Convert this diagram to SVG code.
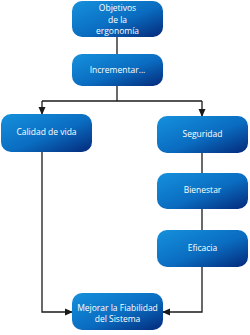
<svg xmlns="http://www.w3.org/2000/svg" width="250" height="335" viewBox="0 0 250 335">
<style>
.box{fill:url(#g)}
.t{font-family:"Open Sans","Liberation Sans",sans-serif;font-size:8.5px;fill:#fff;text-anchor:middle}
.c{fill:none;stroke:#1a1a1a;stroke-width:1.3}
</style>
<defs>
<linearGradient id="g" x1="0" y1="0" x2="1" y2="1">
<stop offset="0" stop-color="#1591dc"/>
<stop offset="0.55" stop-color="#0a6cc0"/>
<stop offset="1" stop-color="#04297a"/>
</linearGradient>
<marker id="a" markerWidth="8" markerHeight="8" refX="7" refY="4" orient="auto" markerUnits="userSpaceOnUse">
<path d="M0,0.5 L8,4 L0,7.5 Z" fill="#1a1a1a"/>
</marker>
</defs>
<g id="connectors">
<path class="c" d="M117,37 V54"/>
<path class="c" d="M117,86 V101"/>
<path class="c" d="M42,101 H202"/>
<path class="c" d="M42,101 V114" marker-end="url(#a)"/>
<path class="c" d="M202,101 V116" marker-end="url(#a)"/>
<path class="c" d="M202,153 V173"/>
<path class="c" d="M202,209 V230"/>
<path class="c" d="M42,152 V312 H72" marker-end="url(#a)"/>
<path class="c" d="M202,267 V312 H163" marker-end="url(#a)"/>
</g>
<g id="n1"><rect class="box" x="72" y="1" width="91" height="36" rx="10"/>
<text class="t" x="117.5" y="11">Objetivos</text><text class="t" x="117.5" y="22.5">de la</text><text class="t" x="117.5" y="34">ergonomía</text></g>
<g id="n2"><rect class="box" x="72" y="54" width="91" height="32" rx="10"/>
<text class="t" x="117.5" y="73">Incrementar...</text></g>
<g id="n3"><rect class="box" x="1" y="114" width="91" height="38" rx="10"/>
<text class="t" x="46.5" y="135">Calidad de vida</text></g>
<g id="n4"><rect class="box" x="157" y="116" width="91" height="37" rx="10"/>
<text class="t" x="202.5" y="137">Seguridad</text></g>
<g id="n5"><rect class="box" x="157" y="173" width="91" height="36" rx="10"/>
<text class="t" x="202.5" y="193">Bienestar</text></g>
<g id="n6"><rect class="box" x="157" y="230" width="91" height="37" rx="10"/>
<text class="t" x="202.5" y="251">Eficacia</text></g>
<g id="n7"><rect class="box" x="72" y="293" width="91" height="37" rx="10"/>
<text class="t" x="117.5" y="311">Mejorar la Fiabilidad</text><text class="t" x="117.5" y="322">del Sistema</text></g>
</svg>
